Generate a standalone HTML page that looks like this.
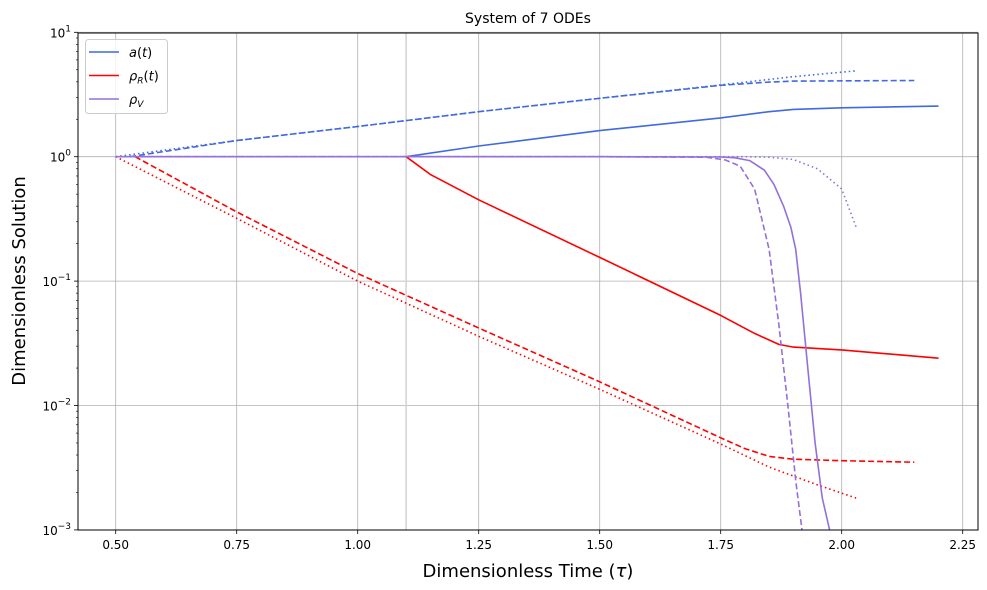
<!DOCTYPE html>
<html><head><meta charset="utf-8"><style>
html,body{margin:0;padding:0;background:#fff;}
svg{display:block;font-family:"DejaVu Sans","Liberation Sans",sans-serif;}
</style></head><body>
<svg id="chart" width="987" height="590"></svg>
<script>
const xTicks=[0.5,0.75,1.0,1.25,1.5,1.75,2.0,2.25];
const xTickLabels=["0.50","0.75","1.00","1.25","1.50","1.75","2.00","2.25"];
const yTickExp=[1,0,-1,-2,-3];
const aSolidT=[1.1,1.25,1.5,1.75,1.85,1.9,2.0,2.2];
const aSolidV=[1,1.22,1.62,2.05,2.3,2.4,2.47,2.55];
const aDashT=[0.53,0.75,1.0,1.25,1.5,1.75,1.85,1.9,2.15];
const aDashV=[1,1.35,1.75,2.3,2.95,3.75,3.98,4.05,4.1];
const aDotT=[0.5,0.75,1.0,1.25,1.5,1.75,1.9,2.03];
const aDotV=[1,1.35,1.75,2.3,2.95,3.78,4.4,4.9];
const rSolidT=[1.1,1.15,1.25,1.5,1.75,1.82,1.87,1.9,2.0,2.2];
const rSolidV=[1,0.72,0.45,0.155,0.053,0.038,0.031,0.0295,0.028,0.024];
const rDashT=[0.54,0.75,1.0,1.25,1.5,1.75,1.8,1.85,1.9,2.0,2.15];
const rDashV=[1,0.36,0.115,0.042,0.0155,0.0055,0.0045,0.0039,0.0037,0.0036,0.0035];
const rDotT=[0.5,0.75,1.0,1.25,1.5,1.75,1.85,1.95,2.03];
const rDotV=[1,0.32,0.1,0.036,0.0135,0.0049,0.0032,0.0023,0.0018];
const vSolidT=[0.5,1.0,1.5,1.75,1.78,1.81,1.84,1.86,1.88,1.895,1.905,1.915,1.93,1.945,1.96,1.975];
const vSolidV=[1,1,1,0.995,0.98,0.93,0.78,0.6,0.4,0.27,0.18,0.08,0.02,0.005,0.0018,0.001];
const vDashT=[0.53,1.0,1.5,1.72,1.76,1.79,1.82,1.85,1.87,1.89,1.905,1.918];
const vDashV=[1,1,1,0.99,0.94,0.84,0.55,0.18,0.045,0.009,0.0025,0.001];
const vDotT=[0.5,1.0,1.5,1.8,1.85,1.9,1.95,2.0,2.03];
const vDotV=[1,1,1,1,0.99,0.95,0.8,0.55,0.27];

const L=78,R=978,T=33,B=530;
const X=t=>115.7+(t-0.5)*484;
const Y=v=>156.7-Math.log10(v)*124.4;
const svg=document.getElementById('chart');
const NS='http://www.w3.org/2000/svg';
function mk(tag,attrs,parent){const e=document.createElementNS(NS,tag);for(const k in attrs)e.setAttribute(k,attrs[k]);(parent||svg).appendChild(e);return e;}

mk('rect',{x:0,y:0,width:987,height:590,fill:'#fff'});
const grid=mk('g',{});


xTicks.forEach((t,i)=>{
  const g=mk('line',{x1:X(t),x2:X(t),y1:T,y2:B,stroke:'#b0b0b0','stroke-width':0.8},grid);
  
  
  const tk=mk('line',{x1:X(t),x2:X(t),y1:B,y2:B+4,stroke:'#000','stroke-width':0.8});
  
  
  const tl=mk('text',{x:X(t),y:B+19,'font-size':12,'text-anchor':'middle',fill:'#000'});
  tl.textContent=xTickLabels[i];
  
  
});
const vl=mk('line',{x1:X(1.1),x2:X(1.1),y1:T,y2:B,stroke:'#d3d3d3','stroke-width':1.5});


yTickExp.forEach(e=>{
  const y=Y(Math.pow(10,e));
  const g=mk('line',{x1:L,x2:R,y1:y,y2:y,stroke:'#b0b0b0','stroke-width':0.8},grid);
  
  
  const tk=mk('line',{x1:L-4,x2:L,y1:y,y2:y,stroke:'#000','stroke-width':0.8});
  
  
  const tl=mk('text',{x:L-7,y:y+5,'font-size':12,'text-anchor':'end',fill:'#000'});
  tl.innerHTML='10<tspan dy="-6" font-size="9">'+(e<0?'\u2212'+(-e):e)+'</tspan>';
  
  
});
yTickExp.slice(1).forEach(e=>{for(let m=2;m<10;m++){const v=m*Math.pow(10,e);if(v<=10){const y=Y(v);mk('line',{x1:L-2,x2:L,y1:y,y2:y,stroke:'#000','stroke-width':0.6});}}});

const clip=mk('clipPath',{id:'pc'});mk('rect',{x:L,y:T,width:R-L,height:B-T},clip);
const series=[
 [aSolidT,aSolidV,'#4169e1','', 'a-solid'],[aDashT,aDashV,'#4169e1','6,3','a-dashed'],[aDotT,aDotV,'#4169e1','1.5,3','a-dotted'],
 [rSolidT,rSolidV,'#ff0000','', 'rho-r-solid'],[rDashT,rDashV,'#ff0000','6,3','rho-r-dashed'],[rDotT,rDotV,'#ff0000','1.5,3','rho-r-dotted'],
 [vSolidT,vSolidV,'#9370db','', 'rho-v-solid'],[vDashT,vDashV,'#9370db','6,3','rho-v-dashed'],[vDotT,vDotV,'#9370db','1.5,3','rho-v-dotted']];
series.forEach(s=>{
  const d=s[0].map((t,i)=>(i?'L':'M')+X(t).toFixed(1)+','+Y(s[1][i]).toFixed(1)).join(' ');
  const p=mk('path',{d:d,fill:'none',stroke:s[2],'stroke-width':1.6,'stroke-dasharray':s[3],'stroke-linejoin':'round','clip-path':'url(#pc)'});
  
  
});
const frame=mk('rect',{x:L,y:T,width:R-L,height:B-T,fill:'none',stroke:'#000','stroke-width':1});



const title=mk('text',{x:528,y:23,'font-size':14,'text-anchor':'middle'});title.textContent='System of 7 ODEs';


const xl=mk('text',{x:528,y:577,'font-size':18,'text-anchor':'middle'});xl.innerHTML='Dimensionless Time (<tspan font-style="italic">τ</tspan>)';


const yl=mk('text',{x:25,y:281,'font-size':18,'text-anchor':'middle',transform:'rotate(-90 25 281)'});yl.textContent='Dimensionless Solution';



const lg=mk('g',{});


mk('rect',{x:85.5,y:39.5,width:82,height:74,rx:3,fill:'#fff','fill-opacity':0.8,stroke:'#ccc'},lg);
const entries=[['#4169e1','<tspan font-style="italic">a</tspan>(<tspan font-style="italic">t</tspan>)','legend-entry-a'],['#ff0000','<tspan font-style="italic">ρ</tspan><tspan font-size="9" dy="3" font-style="italic">R</tspan><tspan dy="-3">(</tspan><tspan font-style="italic">t</tspan>)','legend-entry-rho-r'],['#9370db','<tspan font-style="italic">ρ</tspan><tspan font-size="9" dy="3" font-style="italic">V</tspan>','legend-entry-rho-v']];
entries.forEach((e,i)=>{
  const y=52+i*23.5;
  const g=mk('g',{},lg);
  
  
  mk('line',{x1:89,x2:119,y1:y,y2:y,stroke:e[0],'stroke-width':1.6},g);
  const t=mk('text',{x:129,y:y+5,'font-size':13},g);t.innerHTML=e[1];
});
</script>
</body></html>
